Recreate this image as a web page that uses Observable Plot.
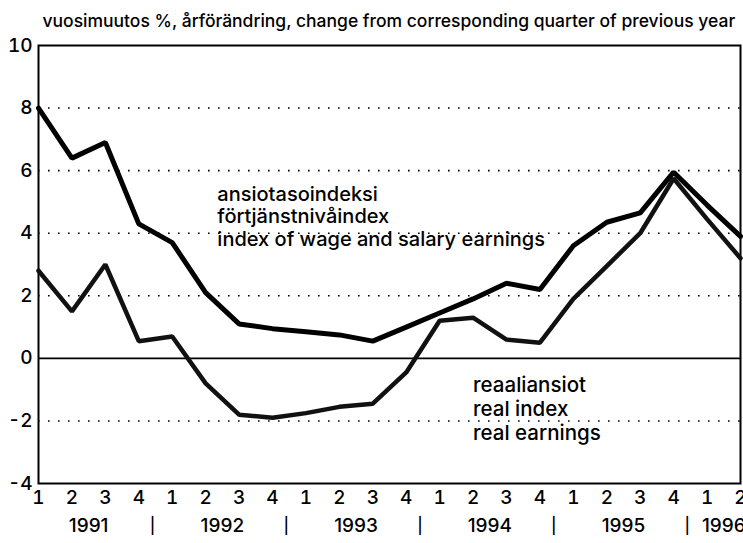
<!DOCTYPE html>
<html>
<head>
<meta charset="utf-8">
<script src="https://cdn.jsdelivr.net/npm/d3@7"></script>
<script src="https://cdn.jsdelivr.net/npm/@observablehq/plot@0.6"></script>
<style>
  html, body { margin: 0; padding: 0; background: white; }
  #chart { width: 743px; height: 543px; }
</style>
</head>
<body>
<div id="chart"></div>
<script>
// ---- data ----
const yearOf = [1991,1991,1991,1991,1992,1992,1992,1992,1993,1993,1993,1993,1994,1994,1994,1994,1995,1995,1995,1995,1996,1996];
const quarterLabel = ["1","2","3","4","1","2","3","4","1","2","3","4","1","2","3","4","1","2","3","4","1","2"];
const wageIndex = [8.0, 6.4, 6.9, 4.3, 3.7, 2.1, 1.1, 0.95, 0.85, 0.75, 0.55, 1.0, 1.45, 1.9, 2.4, 2.2, 3.6, 4.35, 4.65, 5.95, 4.9, 3.9];
const realIndex = [2.8, 1.5, 3.0, 0.55, 0.7, -0.8, -1.8, -1.9, -1.75, -1.55, -1.45, -0.45, 1.2, 1.3, 0.6, 0.5, 1.9, 2.95, 4.0, 5.75, 4.45, 3.2];
const yTicks = [-4, -2, 0, 2, 4, 6, 8, 10];
const titleText = "vuosimuutos %, årförändring, change from corresponding quarter of previous year";
const wageLabel = ["ansiotasoindeksi", "förtjänstnivåindex", "index of wage and salary earnings"];
const realLabel = ["reaaliansiot", "real index", "real earnings"];

// ---- derived tables ----
const rows = quarterLabel.map((q, i) => ({i, q, year: yearOf[i], wage: wageIndex[i], real: realIndex[i]}));
const years = Array.from(new Set(yearOf));
const yearRows = years.map(y => {
  const idx = rows.filter(r => r.year === y).map(r => r.i);
  return {year: String(y), center: d3.mean(idx), first: d3.min(idx)};
});
const sepRows = yearRows.slice(1).map(d => ({pos: d.first - 0.5}));
const n = rows.length;

const chart = Plot.plot({
  width: 743,
  height: 543,
  marginLeft: 38,
  marginRight: 3,
  marginTop: 45,
  marginBottom: 60,
  style: {fontFamily: "Inter, 'Liberation Sans', sans-serif", fontSize: "18px", fontWeight: 500, color: "black", background: "white"},
  x: {type: "linear", domain: [0, n - 1]},
  y: {domain: [-4, 10]},
  marks: [
    Plot.ruleY(yTicks.filter(t => t !== 0 && t !== 10 && t !== -4), {stroke: "black", strokeWidth: 1.6, strokeDasharray: "1.6,8.4"}),
    Plot.ruleY([0], {stroke: "black", strokeWidth: 1.6}),
    Plot.frame({stroke: "black", strokeWidth: 2}),
    Plot.axisX(d3.range(n), {tickSize: 0, tickPadding: 7, tickFormat: i => quarterLabel[i], label: null, fontSize: 19}),
    Plot.axisY(yTicks, {tickSize: 0, tickPadding: 6, label: null, fontSize: 19, tickFormat: d => String(d)}),
    Plot.line(rows, {x: "i", y: "real", stroke: "#111", strokeWidth: 4.5, strokeLinejoin: "miter"}),
    Plot.line(rows, {x: "i", y: "wage", stroke: "black", strokeWidth: 5, strokeLinejoin: "miter"}),
    Plot.text([wageLabel.join("\n")], {x: 5.35, y: 5.55, text: d => d, textAnchor: "start", lineAnchor: "top", lineHeight: 1.13, fontSize: 20}),
    Plot.text([realLabel.join("\n")], {x: 13.0, y: -0.55, text: d => d, textAnchor: "start", lineAnchor: "top", lineHeight: 1.16, fontSize: 20.5}),
    Plot.text(yearRows, {x: "center", text: "year", frameAnchor: "bottom", dy: 42, lineAnchor: "middle", fontSize: 19}),
    Plot.text(sepRows, {x: "pos", text: () => "|", frameAnchor: "bottom", dy: 42, dx: -3, lineAnchor: "middle", fontSize: 16}),
    Plot.text([titleText], {text: d => d, frameAnchor: "top-left", textAnchor: "start", lineAnchor: "bottom", dx: 4, dy: -19, fontSize: 17.5})
  ]
});
document.getElementById("chart").appendChild(chart);
</script>
</body>
</html>
